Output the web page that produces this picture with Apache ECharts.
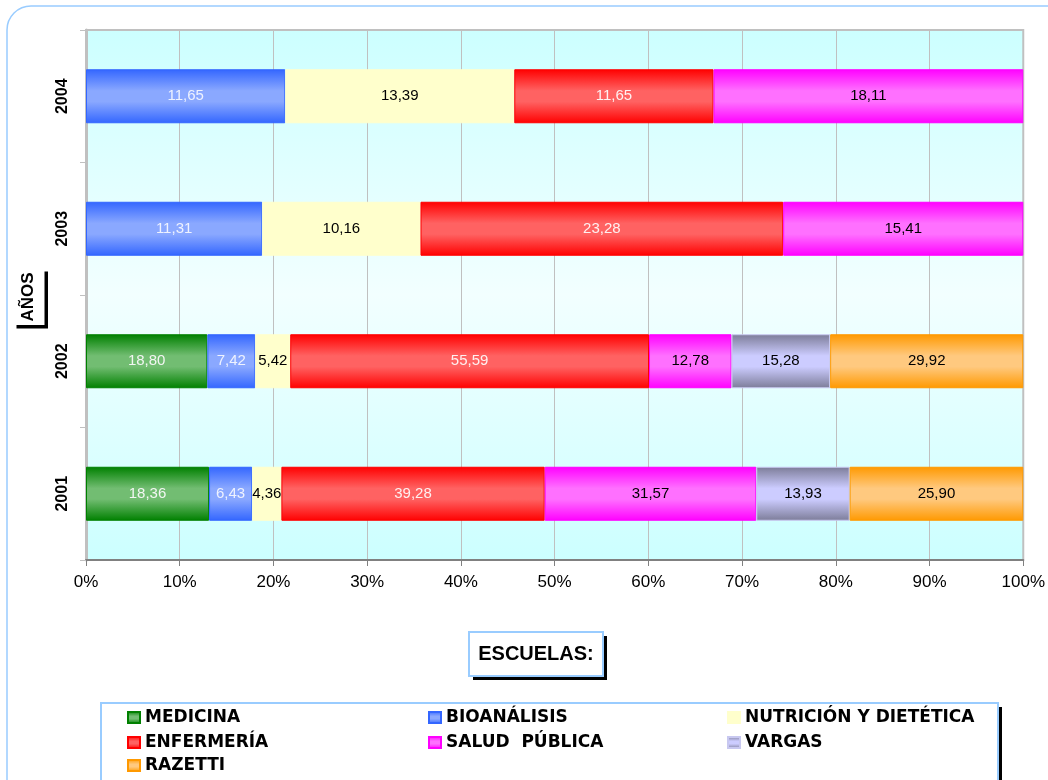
<!DOCTYPE html>
<html>
<head>
<meta charset="utf-8">
<script src="https://cdn.jsdelivr.net/npm/echarts@6/dist/echarts.min.js"></script>
<style>
html,body{margin:0;padding:0;background:#fff;}
#chart{width:1048px;height:780px;}
</style>
</head>
<body>
<div id="chart"></div>
<script>
// ---- data ----
const years = ['2001', '2002', '2003', '2004'];
const schoolNames = ['MEDICINA', 'BIOANÁLISIS', 'NUTRICIÓN Y DIETÉTICA', 'ENFERMERÍA', 'SALUD  PÚBLICA', 'VARGAS', 'RAZETTI'];
const medicina     = [18.36, 18.80, null, null];
const bioanalisis  = [6.43, 7.42, 11.31, 11.65];
const nutricion    = [4.36, 5.42, 10.16, 13.39];
const enfermeria   = [39.28, 55.59, 23.28, 11.65];
const saludPublica = [31.57, 12.78, 15.41, 18.11];
const vargas       = [13.93, 15.28, null, null];
const razetti      = [25.90, 29.92, null, null];
const xTickLabels  = ['0%', '10%', '20%', '30%', '40%', '50%', '60%', '70%', '80%', '90%', '100%'];

const rawSeries = [medicina, bioanalisis, nutricion, enfermeria, saludPublica, vargas, razetti];

// ---- styling ----
const palette = [
  ['#008000', '#72bd72'],
  ['#3366ff', '#8aa8ff'],
  ['#ffffcc', '#ffffcc'],
  ['#ff0000', '#ff6262'],
  ['#ff00ff', '#ff70ff'],
  ['#7c7c98', '#ccccff'],
  ['#ff9900', '#ffc97f']
];
const labelColors = ['#f2f6f2', '#eef2ff', '#000', '#fff0f0', '#000', '#000', '#000'];
const FONT = '"Liberation Sans", Arial, sans-serif';

function grad(dark, light) {
  return new echarts.graphic.LinearGradient(0, 0, 0, 1, [
    { offset: 0, color: dark },
    { offset: 0.4, color: light },
    { offset: 0.6, color: light },
    { offset: 1, color: dark }
  ]);
}

const totals = years.map((_, i) => rawSeries.reduce((s, arr) => s + (arr[i] == null ? 0 : arr[i]), 0));

const series = rawSeries.map((arr, si) => ({
  name: schoolNames[si],
  type: 'bar',
  stack: 'total',
  barWidth: 54,
  data: arr.map((v, i) => v == null ? null : v / totals[i] * 100),
  itemStyle: {
    color: grad(palette[si][0], palette[si][1]),
    borderColor: si === 5 ? '#c8c8f0' : palette[si][0],
    borderWidth: 1
  },
  label: {
    show: true,
    position: 'inside',
    fontFamily: FONT,
    fontSize: 15,
    color: labelColors[si],
    formatter: p => arr[p.dataIndex].toFixed(2).replace('.', ',')
  },
  emphasis: { disabled: true }
}));

// legend positions (3 columns, 3 rows)
const colX = [127, 428, 727];
const rowY = [709, 734, 757];
const legends = schoolNames.map((n, i) => ({
  data: [n],
  left: colX[i % 3],
  top: rowY[Math.floor(i / 3)],
  padding: 0,
  itemWidth: 12,
  itemHeight: 11,
  icon: 'rect',
  selectedMode: false,
  z: 10,
  textStyle: { fontFamily: '"DejaVu Sans", sans-serif', fontWeight: 'bold', fontSize: 17, color: '#000' }
}));

const chart = echarts.init(document.getElementById('chart'), null, { renderer: 'canvas' });
chart.setOption({
  animation: false,
  backgroundColor: '#fff',
  legend: legends,
  grid: {
    left: 86, right: 24, top: 30, bottom: 220,
    show: true,
    borderColor: '#c0c0c0',
    borderWidth: 2,
    backgroundColor: new echarts.graphic.LinearGradient(0, 0, 0, 1, [
      { offset: 0, color: '#ccffff' },
      { offset: 0.5, color: '#f2ffff' },
      { offset: 1, color: '#ccffff' }
    ])
  },
  xAxis: {
    type: 'value',
    min: 0, max: 100, interval: 10,
    axisLine: { show: true, lineStyle: { color: '#808080', width: 2 } },
    axisTick: { show: true, length: 6, lineStyle: { color: '#808080' } },
    splitLine: { show: true, lineStyle: { color: '#c0c0c0', width: 1 } },
    axisLabel: {
      margin: 14,
      fontFamily: FONT, fontSize: 17, color: '#000',
      formatter: v => xTickLabels[Math.round(v / 10)]
    }
  },
  yAxis: {
    type: 'category',
    data: years,
    axisLine: { show: true, lineStyle: { color: '#c0c0c0', width: 3 } },
    axisTick: { show: true, length: 6, lineStyle: { color: '#c0c0c0' } },
    axisLabel: {
      rotate: 90,
      margin: 15,
      fontFamily: FONT, fontSize: 16, fontWeight: 'bold', color: '#000'
    }
  },
  graphic: [
    // outer rounded frame
    { type: 'rect', z: -10, silent: true,
      shape: { x: 7, y: 6, width: 1100, height: 1000, r: 24 },
      style: { fill: 'none', stroke: '#99ccff', lineWidth: 1.5 } },
    // AÑOS box
    { type: 'rect', z: 1, silent: true,
      shape: { x: 16.5, y: 271.5, width: 31.5, height: 57 },
      style: { fill: '#000' } },
    { type: 'rect', z: 2, silent: true,
      shape: { x: 13, y: 268, width: 31.5, height: 57 },
      style: { fill: '#fff' } },
    { type: 'text', z: 3, silent: true,
      x: 28.5, y: 297, rotation: Math.PI / 2,
      style: { text: 'AÑOS', fontFamily: FONT, fontSize: 17, fontWeight: 'bold', fill: '#000',
               textAlign: 'center', textVerticalAlign: 'middle' } },
    // ESCUELAS box
    { type: 'rect', z: 1, silent: true,
      shape: { x: 473, y: 636, width: 134, height: 44 },
      style: { fill: '#000' } },
    { type: 'rect', z: 2, silent: true,
      shape: { x: 469, y: 632, width: 134, height: 44 },
      style: { fill: '#fff', stroke: '#99ccff', lineWidth: 2 } },
    { type: 'text', z: 3, silent: true,
      x: 536, y: 654,
      style: { text: 'ESCUELAS:', fontFamily: FONT, fontSize: 20, fontWeight: 'bold', fill: '#000',
               textAlign: 'center', textVerticalAlign: 'middle' } },
    // legend box
    { type: 'rect', z: 1, silent: true,
      shape: { x: 105, y: 707, width: 897, height: 80 },
      style: { fill: '#000' } },
    { type: 'rect', z: 2, silent: true,
      shape: { x: 101, y: 703, width: 897, height: 80 },
      style: { fill: '#fff', stroke: '#99ccff', lineWidth: 2 } }
  ],
  series: series
});
</script>
</body>
</html>
